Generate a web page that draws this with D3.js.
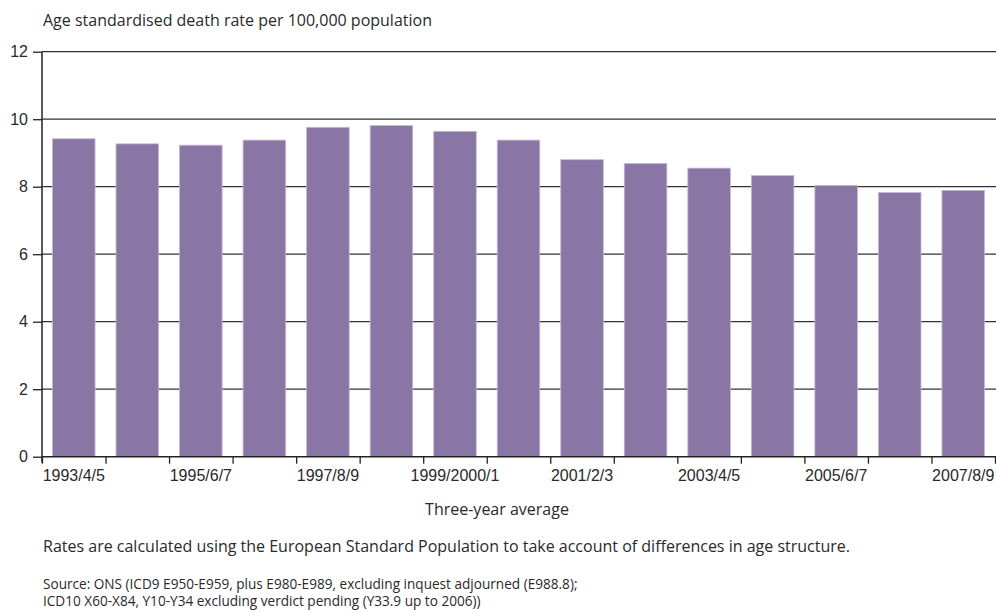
<!DOCTYPE html>
<html>
<head>
<meta charset="utf-8">
<script src="https://cdn.jsdelivr.net/npm/d3@7"></script>
<style>
  html, body { margin: 0; padding: 0; background: #fff; }
  svg { display: block; font-family: "Open Sans", "Noto Sans", sans-serif; }
</style>
</head>
<body>
<svg id="chart" width="996" height="613"></svg>
<script>
// three-year averages, England
const categories = ["1993/4/5", "1994/5/6", "1995/6/7", "1996/7/8", "1997/8/9",
  "1998/9/2000", "1999/2000/1", "2000/1/2", "2001/2/3", "2002/3/4",
  "2003/4/5", "2004/5/6", "2005/6/7", "2006/7/8", "2007/8/9"]
const rates = [9.42, 9.27, 9.23, 9.38, 9.76, 9.81, 9.64, 9.38, 8.80, 8.69,
  8.55, 8.33, 8.04, 7.83, 7.89]
const yTicks = [0, 2, 4, 6, 8, 10, 12]

const titleText = "Age standardised death rate per 100,000 population"
const xTitle = "Three-year average"
const note = "Rates are calculated using the European Standard Population to take account of differences in age structure."
const source = ["Source: ONS (ICD9 E950-E959, plus E980-E989, excluding inquest adjourned (E988.8);",
  "ICD10 X60-X84, Y10-Y34 excluding verdict pending (Y33.9 up to 2006))"]

const textColor = "#2a2a2a"
const fontSize = "16px"
const plotLeft = 42, plotRight = 995, plotTop = 51.7, plotBottom = 456.7

const svg = d3.select("#chart")

const x = d3.scaleBand().domain(categories).range([plotLeft, plotRight])
  .paddingInner(0.33).paddingOuter(0.165)
// band boundaries for the tick marks
const xb = d3.scaleLinear().domain([0, categories.length]).range([plotLeft, plotRight])
const y = d3.scaleLinear().domain([0, 12]).range([plotBottom, plotTop])

// gridlines
svg.append("g").selectAll("line").data(yTicks.filter(d => d > 0)).join("line")
  .attr("x1", plotLeft).attr("x2", 996)
  .attr("y1", d => y(d)).attr("y2", d => y(d))
  .attr("stroke", "#333").attr("stroke-width", 1.3)

// bars
svg.append("g").selectAll("rect").data(rates).join("rect")
  .attr("x", (d, i) => x(categories[i]))
  .attr("width", x.bandwidth())
  .attr("y", d => y(d))
  .attr("height", d => y(0) - y(d))
  .attr("fill", "#8a76a5")
  .attr("stroke", "#c4b8d6").attr("stroke-width", 0.8)

// y axis
const yAxis = svg.append("g").attr("transform", `translate(${plotLeft},0)`)
  .call(d3.axisLeft(y).tickValues(yTicks).tickSize(9).tickPadding(5).tickFormat(d3.format("d")))
yAxis.select(".domain").remove()
yAxis.append("line").attr("x1", 0).attr("x2", 0).attr("y1", plotTop).attr("y2", plotBottom + 6)
  .attr("stroke", "#222").attr("stroke-width", 1.5)
yAxis.selectAll(".tick line").attr("stroke", "#222").attr("stroke-width", 1.3)
yAxis.selectAll("text").attr("fill", textColor).style("font-size", fontSize)

// x axis: tick marks on band boundaries
const xTicks = svg.append("g").attr("transform", `translate(0,${plotBottom})`)
  .call(d3.axisBottom(xb).tickValues(d3.range(categories.length + 1)).tickSize(7).tickFormat(""))
xTicks.select(".domain").remove()
xTicks.append("line").attr("x1", plotLeft).attr("x2", 996).attr("y1", 0).attr("y2", 0)
  .attr("stroke", "#222").attr("stroke-width", 1.5)
xTicks.selectAll(".tick line").attr("stroke", "#222").attr("stroke-width", 1.3)

// x axis: labels under every other bar
const xLabels = svg.append("g").attr("transform", `translate(0,${plotBottom})`)
  .call(d3.axisBottom(x).tickSize(0).tickPadding(10)
    .tickFormat((d, i) => i % 2 === 0 ? d : ""))
xLabels.select(".domain").remove()
xLabels.selectAll("text").attr("fill", textColor).style("font-size", fontSize)
  .attr("dy", "0.9em")

// texts
svg.append("text").attr("x", 43).attr("y", 25.5).text(titleText)
  .attr("fill", textColor).style("font-size", fontSize)
svg.append("text").attr("x", 497).attr("y", 515).attr("text-anchor", "middle").text(xTitle)
  .attr("fill", textColor).style("font-size", fontSize)
svg.append("text").attr("x", 43).attr("y", 552).text(note)
  .attr("fill", textColor).style("font-size", fontSize)
// two-line source note
svg.append("g").selectAll("text").data(source).join("text")
  .attr("x", 43).attr("y", (d, i) => 589 + i * 17).text(d => d)
  .attr("fill", textColor).style("font-size", "13.6px")
</script>
</body>
</html>
